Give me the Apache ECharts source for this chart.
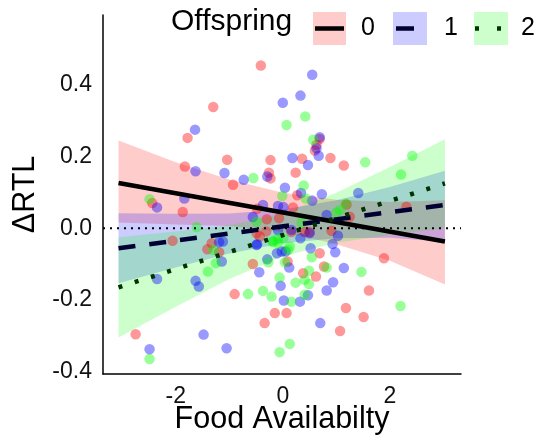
<!DOCTYPE html>
<html><head><meta charset="utf-8">
<script src="https://cdn.jsdelivr.net/npm/echarts@6/dist/echarts.min.js"></script>
<style>html,body{margin:0;padding:0;background:#fff}#c{width:541px;height:435px}</style>
</head><body><div id="c"></div>
<script>
// ---- data ----
const red0 = [[-0.41,0.454],[-1.30,0.338],[-1.78,0.252],[-1.83,0.172],[-1.04,0.191],[-0.93,0.121],[-0.23,0.190],[-0.26,0.155],[-0.23,0.139],[-2.44,0.070],[-1.87,0.045],[0.36,0.194],[0.89,0.196],[1.14,0.175],[0.69,0.249],[0.63,0.233],[0.60,0.217],[0.24,0.155],[0.27,0.092],[0.19,0.058],[-0.48,0.054],[-0.30,0.025],[-0.07,0.028],[1.19,0.066],[2.31,0.060],[1.25,0.032],[0.91,-0.007],[0.69,-0.070],[1.89,-0.084],[0.77,-0.107],[0.38,-0.126],[0.62,-0.135],[1.61,-0.174],[-0.15,-0.237],[0.07,-0.237],[1.18,-0.223],[1.51,-0.248],[1.07,-0.287],[-0.90,-0.184],[-0.56,-0.100],[0.09,-0.093],[-0.34,-0.265],[0.16,-0.011],[0.41,-0.011],[0.50,-0.011],[-0.49,-0.014],[-2.06,-0.035],[-1.41,-0.059],[-1.33,-0.042],[-1.19,-0.067],[-2.75,-0.296],[-0.43,-0.023],[-0.31,-0.009]];
const blue1 = [[-1.64,0.275],[0.0,0.350],[-1.63,0.159],[-1.09,0.154],[-0.73,0.135],[-0.29,0.144],[-2.35,0.058],[-1.84,0.083],[0.18,0.196],[0.47,0.176],[0.69,0.254],[0.63,0.223],[0.67,0.202],[0.04,0.113],[0.34,0.098],[0.55,0.077],[0.73,0.095],[-0.37,0.065],[-0.09,0.062],[0.01,0.059],[-0.56,0.031],[0.82,0.037],[0.55,0.428],[0.33,0.370],[1.41,0.098],[1.03,-0.021],[0.93,-0.044],[0.52,-0.056],[0.98,-0.067],[1.14,-0.111],[0.94,-0.151],[0.82,-0.174],[0.47,-0.187],[0.32,-0.205],[0.02,-0.202],[-0.04,-0.161],[0.70,-0.265],[-0.44,-0.123],[-0.29,-0.087],[0.12,-0.110],[-1.05,-0.335],[-0.11,-0.070],[-0.02,-0.065],[0.05,-0.065],[-0.09,-0.005],[0.16,-0.005],[0.33,-0.028],[0.50,-0.014],[-1.12,-0.037],[-0.48,-0.045],[-1.19,-0.039],[-1.14,-0.093],[-2.35,-0.142],[-1.63,-0.147],[-1.57,-0.163],[-1.48,-0.297],[-2.49,-0.338],[-0.49,-0.047]];
const green2 = [[-0.55,0.140],[-2.49,0.081],[0.57,0.247],[0.39,0.119],[-0.01,0.090],[0.43,0.083],[-0.49,0.018],[1.0,0.044],[1.07,0.051],[1.18,0.068],[0.35,0.016],[0.42,0.312],[0.07,0.288],[1.54,0.184],[2.42,0.202],[2.21,0.150],[0.54,-0.081],[0.82,-0.110],[1.47,-0.122],[0.49,-0.119],[0.41,-0.144],[0.49,-0.156],[0.41,-0.186],[0.16,-0.205],[-0.21,-0.191],[-0.06,-0.138],[0.24,-0.152],[2.2,-0.217],[0.13,-0.323],[-0.06,-0.346],[-0.65,-0.184],[-0.37,-0.175],[-0.27,-0.095],[0.04,-0.095],[0.13,-0.051],[0.10,-0.061],[-0.09,-0.028],[0.01,-0.028],[-0.19,-0.037],[-1.30,-0.061],[-1.25,-0.098],[-1.40,-0.121],[-2.49,-0.365],[-1.61,0.003],[-0.18,-0.037],[-0.09,-0.042]];

const lineX = [-3.07, 3.03];
const fit0 = [0.126, -0.037];
const fit1 = [-0.056, 0.065];
const fit2 = [-0.165, 0.125];

const bandX = [-3.07, -2, -1, 0, 1, 2, 3.03];
const upper0 = [0.245, 0.184, 0.136, 0.099, 0.079, 0.073, 0.078];
const lower0 = [0.016, 0.010, 0.006, -0.011, -0.045, -0.091, -0.157];
const upper1 = [0.042, 0.040, 0.041, 0.052, 0.078, 0.115, 0.160];
const lower1 = [-0.154, -0.110, -0.071, -0.042, -0.028, -0.027, -0.038];
const upper2 = [-0.025, -0.009, 0.008, 0.041, 0.099, 0.171, 0.248];
const lower2 = [-0.305, -0.219, -0.142, -0.079, -0.041, -0.019, 0.0];

const xTicks = [-2, 0, 2];
const xTickLabels = ['-2', '0', '2'];
const yTicks = [-0.4, -0.2, 0, 0.2, 0.4];
const yTickLabels = ['-0.4', '-0.2', '0.0', '0.2', '0.4'];
const groupNames = ['0', '1', '2'];

// ---- chart ----
const FONT = '"Liberation Sans", Arial, Helvetica, sans-serif';
const chart = echarts.init(document.getElementById('c'), null, {renderer: 'canvas'});

function band(lo, hi, color) {
  return {
    type: 'custom', silent: true,
    data: bandX.map((x, i) => [x, lo[i], hi[i]]),
    encode: {x: 0, y: [1, 2]},
    renderItem: function (params, api) {
      if (params.dataIndex !== 0) return null;
      const pts = [];
      for (let i = 0; i < bandX.length; i++) pts.push(api.coord([bandX[i], hi[i]]));
      for (let i = bandX.length - 1; i >= 0; i--) pts.push(api.coord([bandX[i], lo[i]]));
      return {type: 'polygon', shape: {points: pts}, style: {fill: color}};
    }
  };
}
function fitLine(vals, color, dash) {
  return {
    type: 'line', silent: true, symbol: 'none',
    data: lineX.map((x, i) => [x, vals[i]]),
    lineStyle: {color: color, width: 4.5, type: dash, cap: 'butt'}
  };
}
function pts(data, color) {
  return {
    type: 'scatter', silent: true, symbolSize: 10.5,
    data: data, itemStyle: {color: color, borderWidth: 0}
  };
}

chart.setOption({
  animation: false,
  backgroundColor: '#fff',
  grid: {left: 103, right: 80, top: 15, bottom: 61, containLabel: false, outerBoundsMode: 'none'},
  xAxis: {
    type: 'value', min: -3.36, max: 3.33,
    name: 'Food Availabilty', nameLocation: 'middle', nameGap: 30, nameMoveOverlap: false,
    nameTextStyle: {fontFamily: FONT, fontSize: 30.5, color: '#000', verticalAlign: 'top'},
    axisLine: {show: true, onZero: false, lineStyle: {color: '#000', width: 1.5}},
    axisTick: {show: false, customValues: xTicks},
    splitLine: {show: false},
    axisLabel: {customValues: xTicks, margin: 11, fontFamily: FONT, fontSize: 23, color: '#111',
      formatter: v => xTickLabels[xTicks.indexOf(v)] ?? ''}
  },
  yAxis: {
    type: 'value', min: -0.407, max: 0.595,
    name: 'ΔRTL', nameLocation: 'middle', nameGap: 56, nameRotate: 90,
    nameTextStyle: {fontFamily: FONT, fontSize: 30.5, color: '#000'},
    axisLine: {show: true, onZero: false, lineStyle: {color: '#000', width: 1.5}},
    axisTick: {show: false, customValues: yTicks},
    splitLine: {show: false},
    axisLabel: {customValues: yTicks, margin: 11, fontFamily: FONT, fontSize: 23, color: '#111',
      formatter: v => { const i = yTicks.findIndex(t => Math.abs(t - v) < 1e-9); return i >= 0 ? yTickLabels[i] : ''; }}
  },
  series: [
    pts(red0, 'rgba(255,0,0,0.5)'),
    pts(blue1, 'rgba(0,0,255,0.5)'),
    pts(green2, 'rgba(0,255,0,0.5)'),
    band(lower0, upper0, 'rgba(255,0,0,0.2)'),
    fitLine(fit0, '#000000', 'solid'),
    band(lower1, upper1, 'rgba(0,0,255,0.2)'),
    fitLine(fit1, '#000033', [17, 14]),
    band(lower2, upper2, 'rgba(0,255,0,0.2)'),
    fitLine(fit2, '#003300', [4, 13]),
    {type: 'line', silent: true, symbol: 'none', data: [[-3.36, 0], [3.33, 0]],
      lineStyle: {color: '#000', width: 2, type: [2, 5], cap: 'butt'}}
  ],
  graphic: [
    {type: 'text', left: 171, top: 7, style: {text: 'Offspring', font: '30px ' + FONT, fill: '#000'}},
    {type: 'rect', shape: {x: 313, y: 12, width: 33, height: 33}, style: {fill: 'rgba(255,0,0,0.2)'}},
    {type: 'line', shape: {x1: 315, y1: 28.5, x2: 344, y2: 28.5}, style: {stroke: '#000', lineWidth: 4.5}},
    {type: 'text', x: 368, y: 28, style: {text: groupNames[0], font: '25px ' + FONT, fill: '#000', align: 'center', verticalAlign: 'middle'}},
    {type: 'rect', shape: {x: 393, y: 12, width: 34, height: 33}, style: {fill: 'rgba(0,0,255,0.2)'}},
    {type: 'line', shape: {x1: 396, y1: 28.5, x2: 414, y2: 28.5}, style: {stroke: '#000033', lineWidth: 4.5}},
    {type: 'text', x: 451, y: 28, style: {text: groupNames[1], font: '25px ' + FONT, fill: '#000', align: 'center', verticalAlign: 'middle'}},
    {type: 'rect', shape: {x: 474, y: 12, width: 34, height: 33}, style: {fill: 'rgba(0,255,0,0.2)'}},
    {type: 'line', shape: {x1: 475, y1: 28.5, x2: 508, y2: 28.5}, style: {stroke: '#003300', lineWidth: 4.5, lineDash: [4, 18]}},
    {type: 'text', x: 528, y: 28, style: {text: groupNames[2], font: '25px ' + FONT, fill: '#000', align: 'center', verticalAlign: 'middle'}}
  ]
});
</script></body></html>
